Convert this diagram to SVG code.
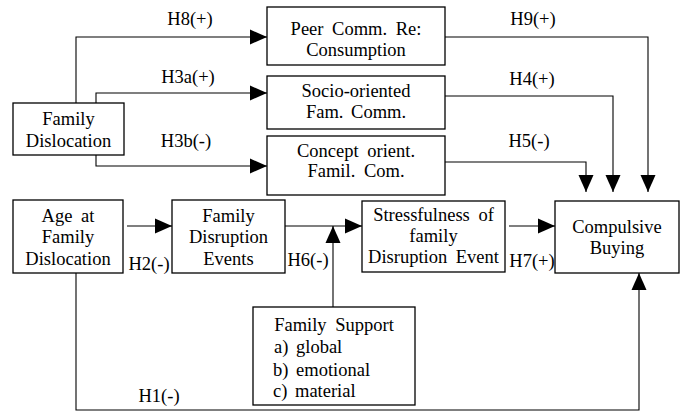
<svg xmlns="http://www.w3.org/2000/svg" width="684" height="412" viewBox="0 0 684 412" font-family="Liberation Serif, Times New Roman, DejaVu Serif, serif" font-size="18.5">
<defs>
<style>
.box{fill:#fff;stroke:#000;stroke-width:1.3}
text{fill:#000;text-anchor:middle}
text.l{text-anchor:start}
.c{fill:none;stroke:#000;stroke-width:1.1}
</style>
<marker id="ah" markerUnits="userSpaceOnUse" markerWidth="17" markerHeight="15" refX="17" refY="7.5" orient="auto" overflow="visible">
<path d="M0,0 L17,7.5 L0,15 z" fill="#000"/>
</marker>
</defs>
<rect width="684" height="412" fill="#fff"/>
<g id="connectors">
<path class="c" d="M76,103 V37 H267" marker-end="url(#ah)"/>
<path class="c" d="M96,103 V93 H267" marker-end="url(#ah)"/>
<path class="c" d="M96,155 V166 H267" marker-end="url(#ah)"/>
<path class="c" d="M445,37 H648 V192" marker-end="url(#ah)"/>
<path class="c" d="M445,96 H613 V192" marker-end="url(#ah)"/>
<path class="c" d="M445,162 H586 V192" marker-end="url(#ah)"/>
<path class="c" d="M127,226 H172" marker-end="url(#ah)"/>
<path class="c" d="M285,226 H362" marker-end="url(#ah)"/>
<path class="c" d="M333,307 V226" marker-end="url(#ah)"/>
<path class="c" d="M509,226 H555" marker-end="url(#ah)"/>
<path class="c" d="M76,273 V410 H639 V273" marker-end="url(#ah)"/>
<text x="190" y="25">H8(+)</text>
<text x="188" y="83">H3a(+)</text>
<text x="186" y="147">H3b(-)</text>
<text x="533" y="25">H9(+)</text>
<text x="532" y="85">H4(+)</text>
<text x="529" y="147">H5(-)</text>
<text x="149" y="270">H2(-)</text>
<text x="308" y="266">H6(-)</text>
<text x="532" y="267">H7(+)</text>
<text x="159" y="402">H1(-)</text>
</g>
<g id="family-dislocation">
<rect class="box" x="13" y="103" width="111" height="52"/>
<text x="68.5" y="125">Family</text>
<text x="68.5" y="147">Dislocation</text>
</g>
<g id="peer-comm">
<rect class="box" x="267" y="7" width="178" height="58"/>
<text x="356" y="35" word-spacing="4">Peer Comm. Re:</text>
<text x="356" y="56">Consumption</text>
</g>
<g id="socio-oriented">
<rect class="box" x="267" y="76" width="178" height="53"/>
<text x="356" y="97">Socio-oriented</text>
<text x="356" y="118" word-spacing="3">Fam. Comm.</text>
</g>
<g id="concept-oriented">
<rect class="box" x="267" y="136" width="178" height="59"/>
<text x="356" y="157" word-spacing="4">Concept orient.</text>
<text x="356" y="177" word-spacing="4">Famil. Com.</text>
</g>
<g id="age-at-dislocation">
<rect class="box" x="13" y="200" width="110" height="73"/>
<text x="68" y="222" word-spacing="4">Age at</text>
<text x="68" y="243">Family</text>
<text x="68" y="265">Dislocation</text>
</g>
<g id="family-disruption-events">
<rect class="box" x="172" y="200" width="113" height="73"/>
<text x="228.5" y="222">Family</text>
<text x="228.5" y="243">Disruption</text>
<text x="228.5" y="265">Events</text>
</g>
<g id="stressfulness">
<rect class="box" x="362" y="201" width="143" height="71"/>
<text x="433.5" y="221" word-spacing="4">Stressfulness of</text>
<text x="433.5" y="242">family</text>
<text x="433.5" y="263" word-spacing="4">Disruption Event</text>
</g>
<g id="compulsive-buying">
<rect class="box" x="555" y="201" width="124" height="72"/>
<text x="617" y="233">Compulsive</text>
<text x="617" y="254">Buying</text>
</g>
<g id="family-support">
<rect class="box" x="253" y="307" width="162" height="98"/>
<text x="334" y="331" word-spacing="4">Family Support</text>
<text class="l" x="274" y="353" word-spacing="3">a) global</text>
<text class="l" x="273" y="376" word-spacing="3">b) emotional</text>
<text class="l" x="273" y="397" word-spacing="3">c) material</text>
</g>
</svg>
